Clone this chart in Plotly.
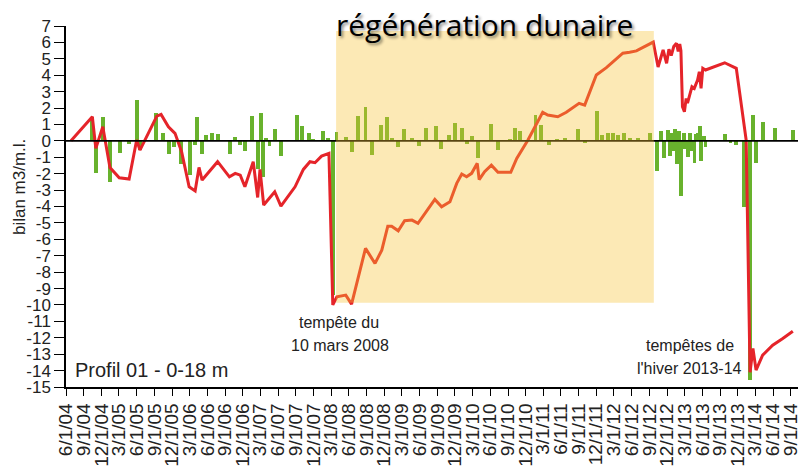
import plotly.graph_objects as go

# cumulative balance (red line)
line_dates = [
    "2004-06-27", "2004-10-15", "2004-11-02", "2004-12-08", "2005-01-14", "2005-03-03",
    "2005-04-23", "2005-06-01", "2005-06-18", "2005-09-13", "2005-10-05", "2005-11-12",
    "2005-12-16", "2006-01-19", "2006-02-27", "2006-03-30", "2006-04-19", "2006-05-05",
    "2006-07-24", "2006-09-23", "2006-10-23", "2006-11-18", "2006-12-12", "2007-01-24",
    "2007-02-16", "2007-02-28", "2007-03-19", "2007-05-15", "2007-06-16", "2007-08-28",
    "2007-10-10", "2007-11-13", "2007-12-09", "2008-01-12", "2008-02-19", "2008-03-10",
    "2008-03-31", "2008-05-16", "2008-06-15", "2008-07-19", "2008-08-26", "2008-10-14",
    "2008-11-18", "2008-12-19", "2009-01-08", "2009-02-11", "2009-03-16", "2009-04-23",
    "2009-05-24", "2009-08-19", "2009-09-23", "2009-11-05", "2009-12-10", "2010-01-05",
    "2010-01-30", "2010-02-25", "2010-03-26", "2010-04-05", "2010-05-03", "2010-06-07",
    "2010-07-11", "2010-09-15", "2010-10-16", "2010-12-13", "2011-02-27", "2011-03-25",
    "2011-05-16", "2011-06-29", "2011-09-03", "2011-10-02", "2011-12-01", "2012-01-22",
    "2012-04-16", "2012-05-21", "2012-06-25", "2012-09-20", "2012-10-15", "2012-11-10",
    "2012-11-28", "2012-12-10", "2012-12-22", "2013-01-04", "2013-01-18", "2013-01-27",
    "2013-02-04", "2013-02-10", "2013-02-18", "2013-02-28", "2013-03-09", "2013-03-16",
    "2013-04-08", "2013-04-20", "2013-05-07", "2013-05-16", "2013-05-25", "2013-06-03",
    "2013-06-17", "2013-09-24", "2013-10-25", "2013-11-23", "2014-01-13", "2014-02-02",
    "2014-02-17", "2014-03-05", "2014-04-08", "2014-05-30", "2014-07-21", "2014-09-11",
]
line_values = [
    0.0, 1.47, -0.46, 0.86, -1.62, -2.25,
    -2.33, 0.05, -0.56, 1.51, 1.61, 0.86,
    0.46, -0.66, -2.8, -3.05, -1.62, -2.39,
    -1.27, -2.19, -1.98, -2.09, -2.8, -1.27,
    -3.45, -1.74, -3.91, -3.1, -3.98, -2.8,
    -1.74, -1.27, -1.33, -0.93, -0.76, -10.0,
    -9.5, -9.4, -9.95, -8.38, -6.55, -7.47,
    -6.66, -5.2, -5.2, -5.48, -4.87, -4.83,
    -5.03, -3.57, -4.02, -3.71, -2.59, -2.02,
    -2.19, -1.98, -1.37, -2.36, -1.88, -1.48,
    -1.92, -1.92, -1.07, 0.05, 1.74, 1.57,
    1.47, 1.74, 2.29, 2.18, 4.01, 4.46,
    5.34, 5.4, 5.48, 6.02, 4.5, 5.54,
    4.73, 5.58, 5.2, 5.75, 5.95, 5.45,
    5.9, 5.5, 2.08, 1.77, 2.59, 2.3,
    3.3, 3.2, 3.71, 4.21, 3.2, 4.42,
    4.32, 4.76, 4.6, 4.42, 0.05, -14.1,
    -12.65, -13.97, -13.06, -12.45, -12.04, -11.6,
]

# balance between surveys (green bars)
bar_dates = [
    "2004-10-12", "2004-11-02", "2004-12-08", "2005-01-14", "2005-03-06", "2005-04-20",
    "2005-06-01", "2005-06-18", "2005-09-10", "2005-10-14", "2005-11-17", "2005-12-09",
    "2006-01-15", "2006-03-02", "2006-03-30", "2006-04-09", "2006-05-06", "2006-05-24",
    "2006-06-25", "2006-07-26", "2006-09-26", "2006-10-24", "2006-11-18", "2006-12-13",
    "2007-01-20", "2007-02-16", "2007-03-03", "2007-03-17", "2007-04-01", "2007-04-18",
    "2007-05-18", "2007-06-16", "2007-09-05", "2007-10-05", "2007-11-09", "2007-11-30",
    "2008-01-17", "2008-02-15", "2008-03-10", "2008-03-29", "2008-05-16", "2008-06-15",
    "2008-07-19", "2008-08-26", "2008-09-30", "2008-11-14", "2008-12-13", "2009-01-08",
    "2009-02-08", "2009-03-13", "2009-04-21", "2009-05-28", "2009-07-05", "2009-08-23",
    "2009-09-20", "2009-10-31", "2009-12-01", "2010-01-05", "2010-01-30", "2010-02-28",
    "2010-03-30", "2010-06-07", "2010-07-11", "2010-09-12", "2010-10-07", "2010-11-02",
    "2011-01-21", "2011-02-19", "2011-04-02", "2011-05-11", "2011-06-20", "2011-08-28",
    "2011-10-02", "2011-12-04", "2012-01-01", "2012-01-30", "2012-02-25", "2012-03-21",
    "2012-04-20", "2012-05-21", "2012-07-03", "2012-09-02", "2012-10-11", "2012-10-29",
    "2012-11-15", "2012-12-05", "2012-12-14", "2012-12-24", "2013-01-03", "2013-01-11",
    "2013-01-19", "2013-01-29", "2013-02-12", "2013-02-24", "2013-03-05", "2013-03-17",
    "2013-03-28", "2013-04-08", "2013-04-21", "2013-05-01", "2013-05-11", "2013-05-21",
    "2013-05-27", "2013-06-09", "2013-06-17", "2013-09-24", "2013-10-24", "2013-11-22",
    "2014-01-03", "2014-02-02", "2014-02-17", "2014-03-05", "2014-04-08", "2014-06-10",
    "2014-09-11",
]
bar_values = [
    1.47, -1.94, 1.47, -2.49, -0.75, -0.2,
    2.5, -0.56, 1.71, 0.46, -0.8, -0.35,
    -1.4, -2.09, -0.25, 1.47, -0.8, 0.35,
    0.5, 0.43, -0.8, 0.23, -0.28, -0.64,
    1.51, -1.7, 1.71, -2.2, 0.2, -0.3,
    0.7, -0.93, 1.57, 0.9, 0.46, 0.1,
    0.62, 0.2, -9.4, 0.56, 0.25, -0.66,
    1.51, 2.08, -0.87, 0.96, 1.43, 0.2,
    -0.4, 0.7, 0.15, -0.32, 0.76, 0.9,
    -0.52, 0.35, 1.1, 0.76, -0.2, 0.29,
    -1.07, 1.0, -0.56, 0.1, 0.8, 0.6,
    1.57, 0.96, -0.26, 0.1, 0.2, 0.72,
    -0.15, 1.82, 0.37, 0.47, 0.47, 0.37,
    0.47, 0.16, 0.2, 0.47, -1.85, 0.6,
    -1.07, 0.66, -0.9, 0.5, -0.6, 0.72,
    -1.4, 0.6, -3.35, 0.5, -0.5, -0.97,
    0.45, -0.6, -1.37, 0.4, 0.5, 0.9,
    -1.2, 0.3, -0.4, 0.42, -0.12, -0.25,
    -4.0, -14.58, 1.57, -1.37, 1.15, 0.78,
    0.66,
]

y_ticks = list(range(-15, 8))
regen_period = ["2008-03-27", "2012-09-23"]
regen_band = [-9.87, 6.7]

RED = "#e5242a"
GREEN = "#68b22d"
TICKFONT = dict(family="Liberation Sans, Arial, sans-serif", size=17, color="#222")

fig = go.Figure()
fig.add_trace(go.Bar(x=bar_dates, y=bar_values, marker=dict(color=GREEN, line=dict(width=0)),
                     width=1.75e9, showlegend=False))
fig.add_trace(go.Scatter(x=line_dates, y=line_values, mode="lines",
                         line=dict(color=RED, width=3), showlegend=False))

# zero line then highlighted period overlay
fig.add_shape(type="line", xref="paper", yref="y", x0=0, x1=1, y0=0, y1=0,
              line=dict(color="black", width=1.6), layer="above")
fig.add_shape(type="rect", xref="x", yref="y", x0=regen_period[0], x1=regen_period[1],
              y0=regen_band[0], y1=regen_band[1], fillcolor="rgba(247,195,49,0.36)",
              line=dict(width=0), layer="above")

fig.update_xaxes(
    type="date", range=["2004-06-01", "2014-11-18"],
    tick0="2004-06-01", dtick="M3", tickformat="%-m/%-d/%y", tickangle=-90,
    showline=True, linecolor="black", linewidth=1.5, mirror=False,
    ticks="outside", ticklen=7, tickwidth=1.3, tickcolor="black",
    showgrid=False, zeroline=False, tickfont=dict(TICKFONT, size=19),
)
fig.update_yaxes(
    range=[-15, 7], tickvals=y_ticks, ticktext=[str(v) for v in y_ticks],
    showline=True, linecolor="black", linewidth=1.5,
    ticks="outside", ticklen=10, tickwidth=1.3, tickcolor="black",
    showgrid=False, zeroline=False, tickfont=TICKFONT,
)

ann_font = dict(family="Liberation Sans, Arial, sans-serif", size=16, color="#222")
annotations = [
    dict(text="régénération dunaire", x=0.566, y=1.005, xref="paper", yref="paper",
         xanchor="center", yanchor="middle", showarrow=False,
         font=dict(family="Open Sans, sans-serif", size=30, color="black",
                   shadow="2px 2px 3px rgba(0,0,0,0.45)")),
    dict(text="bilan m3/m.l.", x=-0.0635, y=0.554, xref="paper", yref="paper",
         textangle=-90, xanchor="center", yanchor="middle", showarrow=False,
         font=dict(ann_font, size=17)),
    dict(text="tempête du", x=0.369, y=0.180, xref="paper", yref="paper",
         xanchor="center", yanchor="middle", showarrow=False, font=ann_font),
    dict(text="10 mars 2008", x=0.370, y=0.116, xref="paper", yref="paper",
         xanchor="center", yanchor="middle", showarrow=False, font=ann_font),
    dict(text="tempêtes de", x=0.843, y=0.1136, xref="paper", yref="paper",
         xanchor="center", yanchor="middle", showarrow=False, font=ann_font),
    dict(text="l'hiver 2013-14", x=0.842, y=0.0526, xref="paper", yref="paper",
         xanchor="center", yanchor="middle", showarrow=False, font=ann_font),
    dict(text="Profil 01 - 0-18 m", x=0.0095, y=0.047, xref="paper", yref="paper",
         xanchor="left", yanchor="middle", showarrow=False, font=dict(ann_font, size=20)),
]

# the page body adds an 8px offset, so the figure is sized to fit the window
fig.update_layout(
    width=798, height=462,
    margin=dict(l=58, r=0, t=18, b=83),
    paper_bgcolor="white", plot_bgcolor="white",
    annotations=annotations, showlegend=False, bargap=0,
)

fig.write_html("out.html")
